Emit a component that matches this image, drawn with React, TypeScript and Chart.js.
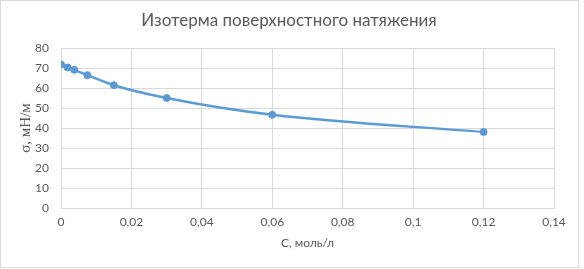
import React, { useEffect, useRef } from "react";
import { Chart, registerables } from "chart.js";

Chart.register(...registerables);

const concentrations = [0, 0.001875, 0.00375, 0.0075, 0.015, 0.03, 0.06, 0.12];
const tensions = [71.8, 70.3, 69.1, 66.4, 61.4, 55.0, 46.6, 38.0];
const chartTitle = "Изотерма поверхностного натяжения";
const xTitle = "С, моль/л";
const yTitle = "σ, мН/м";

const fmt = (v: number) => String(+Number(v).toFixed(3)).replace(".", ",");

export default function App() {
  const ref = useRef<HTMLCanvasElement | null>(null);
  useEffect(() => {
    document.body.style.margin = "0";
    const ctx = ref.current!;
    const chart = new Chart(ctx, {
      type: "scatter",
      data: {
        datasets: [
          {
            data: concentrations.map((c, i) => ({ x: c, y: tensions[i] })),
            showLine: true,
            borderColor: "#5b9bd5",
            backgroundColor: "#5b9bd5",
            borderWidth: 2.5,
            pointRadius: 3.5,
            pointHoverRadius: 3.5,
            pointBorderWidth: 1,
            tension: 0.4,
            cubicInterpolationMode: "monotone",
          },
        ],
      },
      options: {
        animation: false,
        responsive: false,
        maintainAspectRatio: false,
        devicePixelRatio: 1,
        layout: { padding: { left: 0, right: 6, top: 0, bottom: 0 } },
        plugins: {
          legend: { display: false },
          tooltip: { enabled: false },
          title: {
            display: true,
            text: chartTitle,
            color: "#595959",
            font: { family: "Lato, 'Open Sans', sans-serif", size: 17, weight: "normal", lineHeight: 1.2 },
            padding: { top: 10, bottom: 17.6 },
          },
        },
        scales: {
          x: {
            type: "linear",
            min: 0,
            max: 0.14,
            afterFit: (s: any) => {
              s.height = 61;
              s.paddingRight = 30;
            },
            ticks: {
              stepSize: 0.02,
              color: "#595959",
              font: { family: "Lato, 'Open Sans', sans-serif", size: 12 },
              padding: 7,
              maxRotation: 0,
              callback: (v: any) => fmt(v),
            },
            grid: { color: "#d9d9d9", drawTicks: false, lineWidth: 1 },
            border: { color: "#d9d9d9" },
            title: {
              display: true,
              text: xTitle,
              color: "#595959",
              font: { family: "Lato, 'Open Sans', sans-serif", size: 12, lineHeight: 1.2 },
              padding: { top: 0, bottom: 19 },
            },
          },
          y: {
            type: "linear",
            min: 0,
            max: 80,
            afterFit: (s: any) => {
              s.width = 61;
            },
            ticks: {
              stepSize: 10,
              color: "#595959",
              font: { family: "Lato, 'Open Sans', sans-serif", size: 12 },
              padding: 12,
            },
            grid: { color: "#d9d9d9", drawTicks: false, lineWidth: 1 },
            border: { color: "#d9d9d9" },
            title: {
              display: true,
              text: yTitle,
              color: "#595959",
              font: { family: "'Liberation Serif', serif", size: 15, lineHeight: 1.2 },
              padding: { top: 17, bottom: 0 },
            },
          },
        },
      },
    });
    return () => chart.destroy();
  }, []);
  return (
    <div style={{ position: "relative", width: 584, height: 269, background: "#fff" }}>
      <div
        style={{
          position: "absolute",
          left: 0,
          top: 0,
          width: 579,
          height: 268,
          boxSizing: "border-box",
          border: "1px solid #d9d9d9",
        }}
      />
      <canvas ref={ref} width={584} height={269} style={{ position: "absolute", left: 0, top: 0 }} />
    </div>
  );
}
